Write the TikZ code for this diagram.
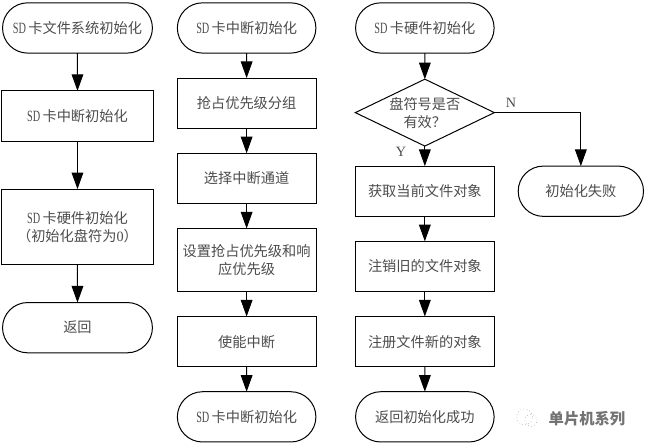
\documentclass[tikz,border=0pt]{standalone}
\usepackage{fontspec}
\setmainfont{Liberation Serif}
\newfontfamily\cjk{Noto Sans CJK SC}
\usetikzlibrary{positioning,arrows.meta,shapes.misc,shapes.geometric}
\newcommand{\sdcard}{\scalebox{0.72}[1.1]{\rmfamily SD}\,}

\begin{document}
\begin{tikzpicture}[
    boxtext/.style={font=\cjk\fontsize{10.7pt}{13.5pt}\selectfont, text=black!70, align=center},
    stepbox/.style={boxtext, draw=black, line width=0.75pt, minimum height=1.33cm, outer sep=0pt},
    terminal/.style={stepbox, rounded rectangle, rounded rectangle arc length=180},
    decision/.style={boxtext, draw=black, line width=0.75pt, diamond, aspect=2.07, inner sep=0pt, minimum width=3.68cm, minimum height=1.77cm, outer sep=0pt},
    wide/.style={minimum width=4cm},
    narrow/.style={minimum width=3.68cm},
    arr/.style={-{Triangle[length=0.44cm,width=0.31cm]}, line width=0.75pt},
    branch/.style={font=\fontsize{10.7pt}{12pt}\selectfont, text=black!70}
]
\useasboundingbox (0,0) rectangle (17.146,-11.827);

% first column
\node[terminal, minimum width=4.2cm] at (2.05,-0.74) (fsinit) {\sdcard 卡文件系统初始化};
\node[stepbox, wide, below=1cm of fsinit] (fsirq) {\sdcard 卡中断初始化};
\node[stepbox, wide, minimum height=2cm, below=1.27cm of fsirq] (fshw) {\sdcard 卡硬件初始化\\（初始化盘符为{\rmfamily 0}）};
\node[terminal, minimum width=4.2cm, below=1cm of fshw] (fsret) {返回};

% second column
\node[terminal, minimum width=3.9cm, right=0.66cm of fsinit] (irqinit) {\sdcard 卡中断初始化};
\node[stepbox, narrow, below=0.66cm of irqinit] (irqgroup) {抢占优先级分组};
\node[stepbox, narrow, below=0.66cm of irqgroup] (irqchan) {选择中断通道};
\node[stepbox, narrow, minimum height=1.67cm, below=0.66cm of irqchan] (irqprio) {设置抢占优先级和响\\应优先级};
\node[stepbox, narrow, below=0.66cm of irqprio] (irqen) {使能中断};
\node[terminal, minimum width=3.9cm, below=0.66cm of irqen] (irqend) {\sdcard 卡中断初始化};

% third column
\node[terminal, minimum width=3.9cm, right=1.05cm of irqinit] (hwinit) {\sdcard 卡硬件初始化};
\node[decision, below=0.69cm of hwinit] (hwcheck) {盘符号是否\\有效？};
\node[stepbox, narrow, below=0.53cm of hwcheck] (hwget) {获取当前文件对象};
\node[stepbox, narrow, below=0.66cm of hwget] (hwdel) {注销旧的文件对象};
\node[stepbox, narrow, below=0.66cm of hwdel] (hwreg) {注册文件新的对象};
\node[terminal, minimum width=3.9cm, below=0.66cm of hwreg] (hwok) {返回初始化成功};
\node[terminal, minimum width=3.55cm, right=0.63cm of hwget] (hwfail) {初始化失败};

\node[branch, above right=0.02cm and 0.18cm of hwcheck.east] (markn) {N};
\node[branch, below left=-0.1cm and 0.37cm of hwcheck.south] (marky) {Y};

% mark in the corner
\node[font=\cjk\bfseries\fontsize{11.5pt}{14pt}\selectfont, text=black!55] at (15.53,-11.09) (brand) {单片机系列};
\node[draw=black!45, dotted, circle, minimum size=0.42cm, inner sep=0pt, left=0.3cm of brand, yshift=0.06cm] (logoa) {};
\node[draw=black!45, dotted, circle, minimum size=0.32cm, inner sep=0pt, below right=-0.18cm and -0.1cm of logoa] (logob) {};

\draw[arr] (fsinit) -- (fsirq);
\draw[arr] (fsirq) -- (fshw);
\draw[arr] (fshw) -- (fsret);
\draw[arr] (irqinit) -- (irqgroup);
\draw[arr] (irqgroup) -- (irqchan);
\draw[arr] (irqchan) -- (irqprio);
\draw[arr] (irqprio) -- (irqen);
\draw[arr] (irqen) -- (irqend);
\draw[arr] (hwinit) -- (hwcheck);
\draw[arr] (hwcheck) -- (hwget);
\draw[arr] (hwget) -- (hwdel);
\draw[arr] (hwdel) -- (hwreg);
\draw[arr] (hwreg) -- (hwok);
\draw[arr] (hwcheck.east) -| (hwfail.north);
\end{tikzpicture}
\end{document}
